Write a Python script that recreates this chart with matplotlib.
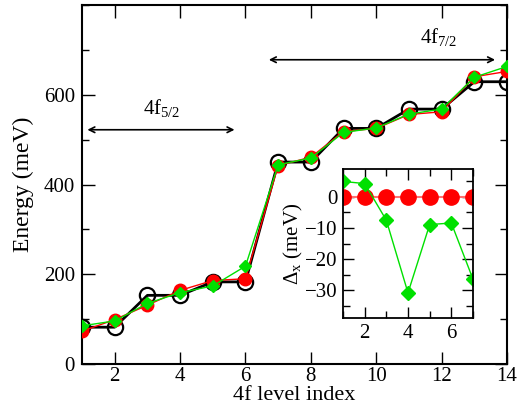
import numpy as np
import matplotlib.pyplot as plt
from matplotlib.ticker import MultipleLocator

plt.rcParams['font.family'] = ['Liberation Serif', 'DejaVu Serif']
plt.rcParams['mathtext.fontset'] = 'custom'
plt.rcParams['mathtext.rm'] = 'Liberation Serif'
plt.rcParams['mathtext.it'] = 'Liberation Serif'

# --- datos ---
niveles = np.arange(1, 15)
e_ref = [82, 82, 153, 153, 183, 183, 450, 450, 525, 525, 568, 568, 629, 629]
e_rojo = [73, 99, 131, 164, 186, 190, 442, 461, 518, 525, 556, 562, 640, 652]
e_verde = [85, 96, 135, 159, 174, 218, 444, 459, 516, 526, 557, 568, 639, 663]

niveles_in = np.arange(1, 8)
dx_rojo = [0, 0, 0, 0, 0, 0, 0]
dx_verde = [5.0, 4.3, -7.5, -30.9, -8.9, -8.4, -26.5]

fig = plt.figure(figsize=(5.18, 4.18), dpi=100)
ax = fig.add_axes([82 / 518, 54 / 418, 425 / 518, 359 / 418])

ax.plot(niveles, e_ref, '-o', color='black', lw=2, ms=11, mfc='none', mew=1.6, zorder=2)
ax.plot(niveles, e_rojo, '-o', color='red', lw=1, ms=9, zorder=3)
ax.plot(niveles, e_verde, '-D', color='#00e000', lw=1, ms=6.5, mec='#00e000', zorder=4)

ax.set_xlim(1, 14)
ax.set_ylim(0, 800)
ax.xaxis.set_major_locator(MultipleLocator(2))
ax.yaxis.set_major_locator(MultipleLocator(200))
ax.yaxis.set_minor_locator(MultipleLocator(100))
ax.set_yticks([0, 200, 400, 600])
ax.tick_params(which='both', direction='in', top=True, right=True, labelsize=15, width=1)
ax.tick_params(which='major', length=9, pad=5)
ax.tick_params(axis='x', which='major', pad=2)
ax.tick_params(which='minor', length=5)
for s in ax.spines.values():
    s.set_linewidth(1.5)
ax.set_xlabel('4f level index', fontsize=16, labelpad=0)
ax.set_ylabel('Energy (meV)', fontsize=17, labelpad=7)

# flechas
ax.annotate('', xy=(1.08, 522), xytext=(5.75, 522),
            arrowprops=dict(arrowstyle='<->', color='black', lw=1.2))
ax.text(3.45, 570, r'4f$_{5/2}$', fontsize=15, ha='center', va='center')
ax.annotate('', xy=(6.63, 678), xytext=(13.72, 678),
            arrowprops=dict(arrowstyle='<->', color='black', lw=1.2))
ax.text(11.9, 728, r'4f$_{7/2}$', fontsize=15, ha='center', va='center')

# --- inset ---
axi = fig.add_axes([343 / 518, 100 / 418, 130 / 518, 149 / 418])
axi.plot(niveles_in, dx_rojo, '-o', color='#ff7070', mfc='red', mec='red', lw=1.5, ms=11)
axi.plot(niveles_in, dx_verde, '-D', color='#00e000', lw=1, ms=7.5)
axi.set_xlim(1, 7)
axi.set_ylim(-39, 9)
axi.xaxis.set_major_locator(MultipleLocator(2))
axi.xaxis.set_minor_locator(MultipleLocator(1))
axi.yaxis.set_major_locator(MultipleLocator(10))
axi.yaxis.set_minor_locator(MultipleLocator(5))
axi.tick_params(which='both', direction='in', top=True, right=True, labelsize=15, width=1)
axi.tick_params(which='major', length=8, pad=4)
axi.tick_params(which='minor', length=5)
for s in axi.spines.values():
    s.set_linewidth(1.3)
axi.set_ylabel(r'$\Delta_x$ (meV)', fontsize=15, labelpad=0)

plt.savefig('out.png', dpi=100)
